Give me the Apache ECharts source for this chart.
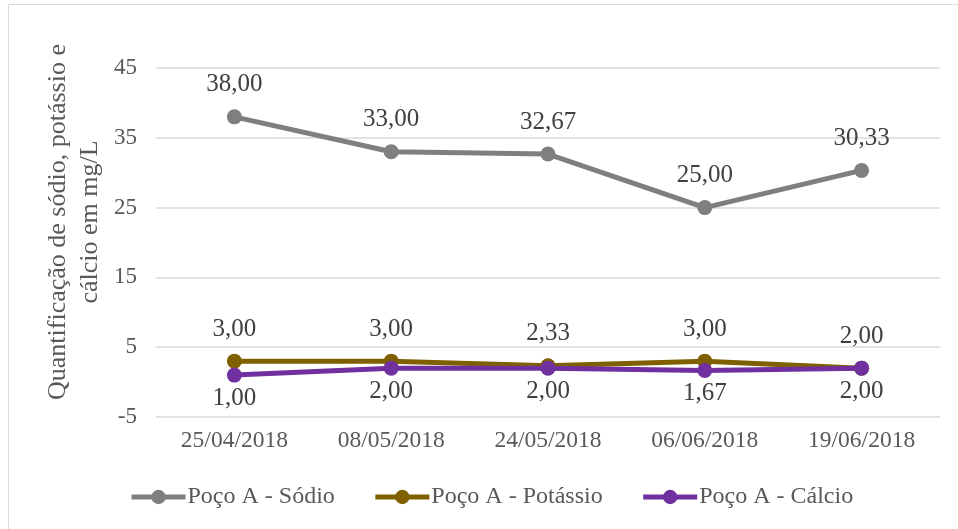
<!DOCTYPE html>
<html>
<head>
<meta charset="utf-8">
<script src="https://cdn.jsdelivr.net/npm/echarts@6/dist/echarts.min.js"></script>
<style>html,body{margin:0;padding:0;background:#fff;}#c{width:958px;height:529px;}</style>
</head>
<body>
<div id="c"></div>
<script>
const categories = ['25/04/2018', '08/05/2018', '24/05/2018', '06/06/2018', '19/06/2018'];
const sodio = [38.00, 33.00, 32.67, 25.00, 30.33];
const potassio = [3.00, 3.00, 2.33, 3.00, 2.00];
const calcio = [1.00, 2.00, 2.00, 1.67, 2.00];
const seriesNames = ['Poço A - Sódio', 'Poço A - Potássio', 'Poço A - Cálcio'];
const yTitle = ['Quantificação de sódio, potássio e', 'cálcio em mg/L'];

const FONT = '"Liberation Serif", "Times New Roman", serif';
const chart = echarts.init(document.getElementById('c'));
const fmt = p => p.value.toFixed(2).replace('.', ',');
function mk(name, data, color, pos) {
  return {
    name: name, type: 'line', data: data,
    symbol: 'circle', symbolSize: 15,
    lineStyle: {width: 5, color: color},
    itemStyle: {color: color},
    label: {show: true, position: pos, distance: pos === 'top' ? 12 : 3, formatter: fmt,
      fontFamily: FONT, fontSize: 25, color: '#404040'},
    z: 3
  };
}
chart.setOption({
  animation: false,
  grid: {left: 156, right: 18, top: 68, bottom: 112},
  xAxis: {
    type: 'category', data: categories, boundaryGap: true,
    axisLine: {show: false}, axisTick: {show: false},
    axisLabel: {fontFamily: FONT, fontSize: 23.5, color: '#595959', margin: 12}
  },
  yAxis: {
    type: 'value', min: -5, max: 45, interval: 10,
    axisLine: {show: false}, axisTick: {show: false},
    splitLine: {lineStyle: {color: '#d9d9d9', width: 1.5}},
    axisLabel: {fontFamily: FONT, fontSize: 23, color: '#595959', margin: 19}
  },
  legend: {
    top: 480, left: 124, itemGap: 38, itemWidth: 54, itemHeight: 18,
    lineStyle: {width: 5},
    textStyle: {fontFamily: FONT, fontSize: 24, color: '#595959', padding: [0,0,0,-3]},
    data: seriesNames
  },
  graphic: [
    {type: 'rect', shape: {x: 8.5, y: 4.5, width: 960, height: 540}, style: {fill: 'none', stroke: '#d9d9d9', lineWidth: 1}, silent: true},
    {type: 'text', x: 74, y: 222, rotation: Math.PI / 2,
      style: {text: yTitle.join('\n'), fontFamily: FONT, fontSize: 26, fill: '#595959', align: 'center', verticalAlign: 'middle', lineHeight: 32}}
  ],
  series: [
    mk(seriesNames[0], sodio, '#7f7f7f', 'top'),
    mk(seriesNames[1], potassio, '#7f6000', 'top'),
    mk(seriesNames[2], calcio, '#7030a0', 'bottom')
  ]
});
</script>
</body>
</html>
